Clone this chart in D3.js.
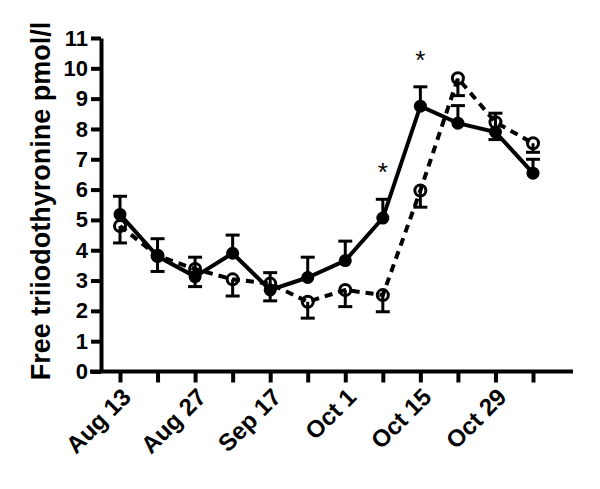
<!DOCTYPE html>
<html>
<head>
<meta charset="utf-8">
<script src="https://cdn.jsdelivr.net/npm/d3@7"></script>
<style>
  body { margin: 0; background: #fff; }
  svg { display: block; font-family: "Liberation Sans", Arial, sans-serif; }
</style>
</head>
<body>
<svg id="chart" width="600" height="489"></svg>
<script>
// sampling dates (every other one labelled)
const xLabels = ["Aug 13", "", "Aug 27", "", "Sep 17", "", "Oct 1", "", "Oct 15", "", "Oct 29", ""];
const yTicks = [0, 1, 2, 3, 4, 5, 6, 7, 8, 9, 10, 11];

// filled circles, solid line (SEM drawn upward)
const groupA = [5.18, 3.8, 3.13, 3.9, 2.69, 3.1, 3.66, 5.06, 8.75, 8.19, 7.9, 6.54];
const groupAErr = [0.6, 0.58, 0.64, 0.6, 0.57, 0.67, 0.64, 0.62, 0.64, 0.58, 0.62, 0.46];

// open circles, dashed line (SEM drawn downward)
const groupB = [4.8, 3.82, 3.38, 3.04, 2.9, 2.3, 2.69, 2.52, 5.97, 9.67, 8.22, 7.53];
const groupBErr = [0.56, 0.52, 0.58, 0.55, 0.57, 0.54, 0.55, 0.55, 0.55, 0.57, 0.57, 0.3];

// significance markers
const starIdx = [7, 8];

const svg = d3.select("#chart");
const x = d3.scaleLinear().domain([0, 11]).range([120, 533]);
const y = d3.scaleLinear().domain([0, 11]).range([371.5, 38]);

// y axis
const yAxis = svg.append("g")
  .attr("transform", "translate(101,0)")
  .call(d3.axisLeft(y).tickValues(yTicks).tickSize(10).tickSizeOuter(0).tickPadding(3));
yAxis.select(".domain").attr("stroke-width", 4).attr("stroke", "#000");
yAxis.selectAll(".tick line").attr("stroke-width", 4);
yAxis.selectAll(".tick text")
  .attr("font-size", 22).attr("font-weight", "bold").attr("fill", "#000")
  .attr("font-family", "Liberation Sans, Arial, sans-serif");

// x axis
const xAxis = svg.append("g")
  .attr("transform", "translate(0,371.5)")
  .call(d3.axisBottom(x).tickValues(d3.range(12)).tickSize(11).tickFormat(""));
xAxis.select(".domain").remove();
xAxis.selectAll(".tick line").attr("stroke-width", 4);
svg.append("line")
  .attr("x1", 90).attr("x2", 573).attr("y1", 371.5).attr("y2", 371.5)
  .attr("stroke", "#000").attr("stroke-width", 4);

svg.append("g").selectAll("text")
  .data(xLabels.map((l, i) => ({ l, i })).filter(d => d.l))
  .join("text")
  .attr("transform", d => `translate(${x(d.i) + 8},${394}) rotate(-45)`)
  .attr("text-anchor", "end")
  .attr("dominant-baseline", "middle")
  .attr("font-size", 24).attr("font-weight", "bold")
  .text(d => d.l);

// y label
svg.append("text")
  .attr("transform", "translate(50,201) rotate(-90)")
  .attr("text-anchor", "middle")
  .attr("font-size", 27).attr("font-weight", "bold")
  .text("Free triiodothyronine pmol/l");

const line = d3.line().x((d, i) => x(i)).y(d => y(d));

// dashed series
svg.append("path")
  .datum(groupB)
  .attr("d", line)
  .attr("fill", "none").attr("stroke", "#000").attr("stroke-width", 4)
  .attr("stroke-dasharray", "8,6");

// solid series
svg.append("path")
  .datum(groupA)
  .attr("d", line)
  .attr("fill", "none").attr("stroke", "#000").attr("stroke-width", 4);

function errorBars(vals, errs, dir) {
  const g = svg.append("g").attr("stroke", "#000").attr("stroke-width", 3);
  g.selectAll("line.v").data(vals).join("line").attr("class", "v")
    .attr("x1", (d, i) => x(i)).attr("x2", (d, i) => x(i))
    .attr("y1", d => y(d)).attr("y2", (d, i) => y(d + dir * errs[i]));
  g.selectAll("line.c").data(vals).join("line").attr("class", "c")
    .attr("x1", (d, i) => x(i) - 7).attr("x2", (d, i) => x(i) + 7)
    .attr("y1", (d, i) => y(d + dir * errs[i])).attr("y2", (d, i) => y(d + dir * errs[i]));
}
errorBars(groupA, groupAErr, 1);
errorBars(groupB, groupBErr, -1);

svg.append("g").selectAll("circle")
  .data(groupA).join("circle")
  .attr("cx", (d, i) => x(i)).attr("cy", d => y(d)).attr("r", 6.5)
  .attr("fill", "#000");

svg.append("g").selectAll("circle")
  .data(groupB).join("circle")
  .attr("cx", (d, i) => x(i)).attr("cy", d => y(d)).attr("r", 5.5)
  .attr("fill", "none").attr("stroke", "#000").attr("stroke-width", 3);

// asterisks above SEM caps
svg.append("g").selectAll("text")
  .data(starIdx).join("text")
  .attr("x", i => x(i)).attr("y", i => y(groupA[i] + groupAErr[i]) - 18)
  .attr("text-anchor", "middle")
  .attr("font-size", 26)
  .text("*");
</script>
</body>
</html>
